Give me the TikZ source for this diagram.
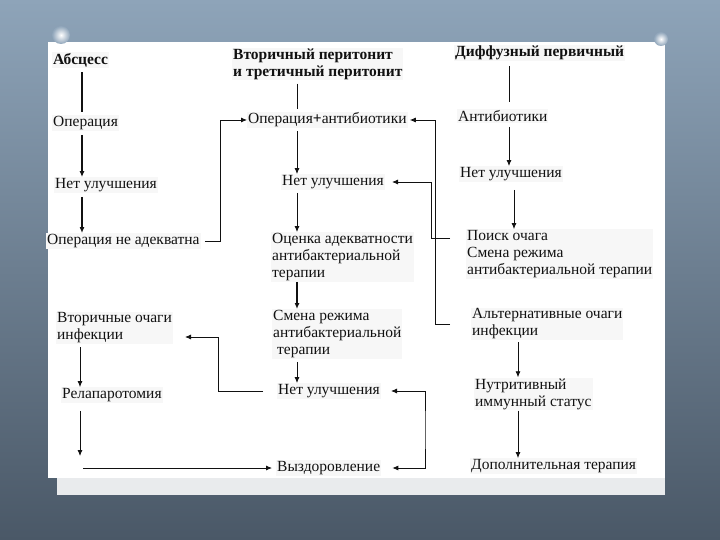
\documentclass[tikz,border=0pt]{standalone}
\usepackage{fontspec}
\setmainfont{Liberation Serif}
\usetikzlibrary{positioning,calc,arrows.meta}
\definecolor{FlowTop}{HTML}{8EA4B9}
\definecolor{FlowBot}{HTML}{4A5867}
\definecolor{FlowPaper}{HTML}{FFFFFF}
\definecolor{FlowShade}{HTML}{E9EBED}
\definecolor{FlowInk}{HTML}{111111}
\definecolor{FlowTextBg}{HTML}{F7F7F7}

\begin{document}
\begin{tikzpicture}[x=1pt,y=-1pt,font=\fontsize{15.5}{17}\selectfont,
  lbl/.style={anchor=west,inner sep=1pt,fill=FlowTextBg,text=FlowInk,align=left},
  hdr/.style={lbl,font=\fontsize{15.5}{17}\selectfont\bfseries},
  conn/.style={draw=FlowInk,line width=0.8pt},
  connthick/.style={draw=FlowInk,line width=1.6pt},
  arr/.style={-{Latex[length=6pt,width=5pt]}},
  arrboth/.style={{Latex[length=6pt,width=5pt]}-{Latex[length=6pt,width=5pt]}}]
  \useasboundingbox (0,0) rectangle (720,540);
  % slide and page
  \shade[top color=FlowTop,bottom color=FlowBot] (0,0) rectangle (720,540);
  \fill[FlowShade] (57,478) rectangle (665,495);
  \fill[FlowPaper] (48,42) rectangle (665,478);
  \foreach \px/\py/\r in {61/35/9,661/39/7}{
     \shade[inner color=white,outer color=FlowTop] (\px,\py) circle (\r pt);}
  % columns of the arrows
  \coordinate (c1) at (82,0);
  \coordinate (c1b) at (80,0);
  \coordinate (c2) at (297,0);
  \coordinate (c3) at (509,0);
  \coordinate (c3b) at (514,0);
  \coordinate (c3c) at (518,0);
  \coordinate (j1) at (220,0);
  \coordinate (j3) at (435,0);
  \coordinate (j4) at (218,0);
  \coordinate (b1) at (425,430);
  % left column
  \node[hdr] (abs) at (52,60) {Абсцесс};
  \node[lbl] (op1) at (52,123) {Операция};
  \node[lbl] (ni1) at (54,185) {Нет улучшения};
  \node[lbl] (opna) at (46,241) {Операция не адекватна};
  \node[lbl] (vtoch) at (56,328) {Вторичные очаги\\инфекции};
  \node[lbl] (relap) at (61,395) {Релапаротомия};
  % middle column
  \node[hdr] (vtor) at (232,64) {Вторичный перитонит\\и третичный перитонит};
  \node[lbl] (opab) at (247,120) {Операция\textbf{+}антибиотики};
  \node[lbl] (ni2) at (281,182) {Нет улучшения};
  \node[lbl] (ocen) at (271,257) {Оценка адекватности\\антибактериальной\\терапии};
  \node[lbl] (smena) at (272,334) {Смена режима\\антибактериальной\\\hspace*{4pt}терапии};
  \node[lbl] (ni3) at (277,391) {Нет улучшения};
  \node[lbl] (vyzd) at (276,468) {Выздоровление};
  % right column
  \node[hdr] (diff) at (454,53) {Диффузный первичный};
  \node[lbl] (anti) at (457,116) {Антибиотики};
  \node[lbl] (ni4) at (459,174) {Нет улучшения};
  \node[lbl] (poisk) at (466,254) {Поиск очага\\Смена режима\\антибактериальной терапии};
  \node[lbl] (alt) at (471,324) {Альтернативные очаги\\инфекции};
  \node[lbl] (nutr) at (474,394) {Нутритивный\\иммунный статус};
  \node[lbl] (dop) at (470,466) {Дополнительная терапия};
  % left column arrows
  \draw[connthick,shorten <=4pt,shorten >=3pt] (abs.south -| c1) -- (op1.north -| c1);
  \foreach \a/\b in {op1/ni1,ni1/opna}
     \draw[connthick,arr,shorten <=4pt] (\a.south -| c1) -- (\b.north -| c1);
  \draw[conn,arr,shorten <=4pt] (opna.east) -- (opna.east -| j1) |- (opab.west);
  \draw[conn,arr,shorten <=3pt] (vtoch.south -| c1b) -- (relap.north -| c1b);
  \coordinate (rd) at (80,456);
  \coordinate (rc) at (83,468);
  \draw[conn,arr,shorten <=8pt] (relap.south -| c1b) -- (rd);
  \draw[conn,arr,shorten >=4pt] (rc) -- (rc -| vyzd.west);
  % middle column arrows
  \draw[conn,shorten <=3pt,shorten >=3pt] (vtor.south -| c2) -- (opab.north -| c2);
  \foreach \a/\b in {opab/ni2,ni2/ocen,smena/ni3}
     \draw[conn,arr,shorten <=3pt] (\a.south -| c2) -- (\b.north -| c2);
  \draw[connthick,arr] (ocen.south -| c2) -- (smena.north -| c2);
  \draw[conn,arr,shorten <=14pt,shorten >=12pt] (ni3.west) -- (ni3.west -| j4) |- ([yshift=-9pt]vtoch.east);
  % right column arrows
  \draw[conn,shorten <=5pt,shorten >=7pt] (diff.south -| c3) -- (anti.north -| c3);
  \draw[conn,arr,shorten <=4pt] (anti.south -| c3) -- (ni4.north -| c3);
  \draw[conn,arr,shorten <=8pt] (ni4.south -| c3b) -- (poisk.north -| c3b);
  \draw[conn,arr,shorten <=2pt] (alt.south -| c3c) -- (nutr.north -| c3c);
  \draw[conn,arr] (nutr.south -| c3c) -- (dop.north -| c3c);
  % back to the middle
  \draw[conn,arr,shorten <=16pt,shorten >=7pt] ([yshift=-9pt]poisk.north west) -- ++(-35,0) |- (ni2.east);
  \draw[conn,arr,shorten <=21pt,shorten >=2pt] (alt.west) -- (alt.west -| j3) |- (opab.east);
  \draw[conn,arrboth,shorten <=10pt,shorten >=11pt] (ni3.east) -| (b1) |- (vyzd.east);
\end{tikzpicture}
\end{document}
